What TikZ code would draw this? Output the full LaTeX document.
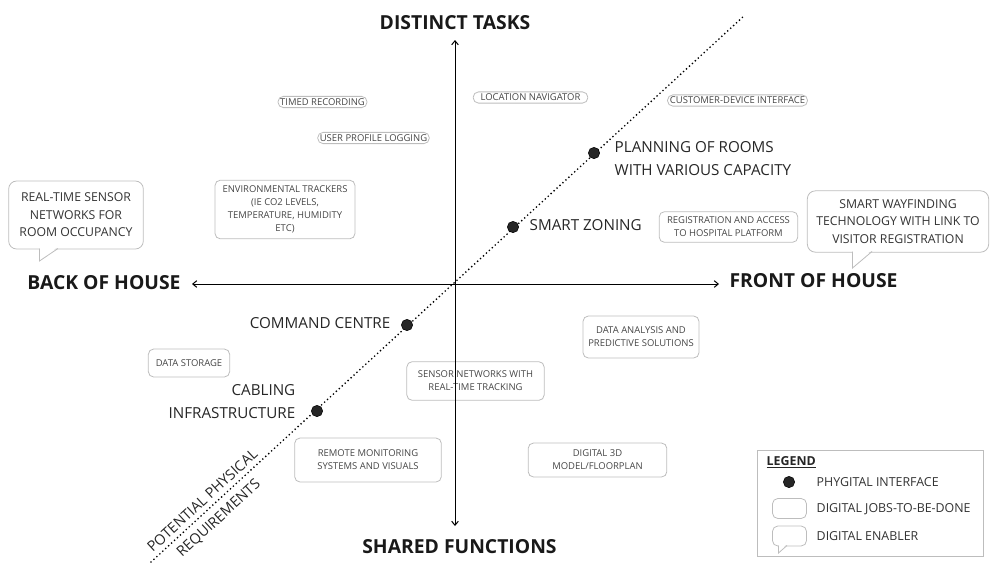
\documentclass[tikz,border=0pt]{standalone}
\usepackage{fontspec}
\setmainfont{Open Sans}
\usetikzlibrary{arrows.meta}

\definecolor{boxgray}{HTML}{BDBDBD}
\definecolor{txtgray}{HTML}{454545}

\tikzset{
  job/.style={draw=boxgray, line width=0.6pt, rounded corners=4pt,
    text=txtgray, font=\fontsize{7.1}{9.8}\selectfont, align=center, inner sep=1.6pt},
  enabler/.style={job, rounded corners=6pt, text=black!80,
    font=\fontsize{9.2}{13.2}\selectfont},
  phygital/.style={circle, fill=black!85, draw=black, inner sep=0pt, minimum size=8.5pt},
  axislabel/.style={font=\bfseries\fontsize{14.5}{17}\selectfont, text=black!90},
  biglabel/.style={font=\fontsize{11.4}{17.2}\selectfont, text=black!85},
  legendtext/.style={anchor=west, font=\fontsize{9.3}{11}\selectfont, text=black!80},
  axis/.style={line width=0.75pt, {Straight Barb[length=3pt,width=5pt]}-{Straight Barb[length=3pt,width=5pt]}}
}

\begin{document}
\begin{tikzpicture}[x=0.75pt, y=-0.75pt]
   \useasboundingbox (0,0) rectangle (1000,576);

   % digital jobs-to-be-done
   \node (timed) at (322.5,102) [job] {TIMED RECORDING};
   \node (profile) at (373.5,138) [job] {USER PROFILE LOGGING};
   \node (env) at (285,209.5) [job, minimum width=105pt, minimum height=44pt]
      {ENVIRONMENTAL TRACKERS\\(IE CO2 LEVELS,\\TEMPERATURE, HUMIDITY\\ETC)};
   \node (nav) at (530.5,97.5) [job, minimum width=86pt] {LOCATION NAVIGATOR};
   \node (custdev) at (737.5,100.5) [job, minimum width=105pt] {CUSTOMER-DEVICE INTERFACE};
   \node (regist) at (728.5,227) [job, minimum width=104pt, minimum height=23pt]
      {REGISTRATION AND ACCESS\\TO HOSPITAL PLATFORM};
   \node (storage) at (189,363) [job, minimum width=61pt, minimum height=21pt] {DATA STORAGE};
   \node (sensnet) at (475.5,381) [job, minimum width=103pt, minimum height=29pt]
      {SENSOR NETWORKS WITH\\REAL-TIME TRACKING};
   \node (analysis) at (641,337) [job, minimum width=87pt, minimum height=31.5pt]
      {DATA ANALYSIS AND\\PREDICTIVE SOLUTIONS};
   \node (remote) at (368,460) [job, minimum width=110pt, minimum height=33pt]
      {REMOTE MONITORING\\SYSTEMS AND VISUALS};
   \node (model) at (597.5,460) [job, minimum width=104pt, minimum height=25.5pt]
      {DIGITAL 3D\\MODEL/FLOORPLAN};

   % digital enablers
   \node (rtsensor) at (76,215) [enabler, minimum width=101pt, minimum height=51pt]
      {REAL-TIME SENSOR\\NETWORKS FOR\\ROOM OCCUPANCY};
   \fill [white] (39.8,247) -- (57.5,247) -- (39.8,260.5) -- cycle;
   \draw [boxgray, line width=0.6pt] (39.5,248.5) -- (39.5,261) -- (58,248.5);
   \node (wayfind) at (898,221.5) [enabler, minimum width=136pt, minimum height=46pt]
      {SMART WAYFINDING\\TECHNOLOGY WITH LINK TO\\VISITOR REGISTRATION};
   \fill [white] (852.8,250) -- (871.5,250) -- (852.8,267.5) -- cycle;
   \draw [boxgray, line width=0.6pt] (852.5,251.5) -- (852.5,268) -- (872,251.5);

   % diagonal
   \coordinate (dlow) at (151,562);
   \coordinate (dhigh) at (745,15);
   \draw [line width=1.4pt, line cap=round, dash pattern=on 0pt off 3pt] (dlow) -- (dhigh);
   \node (potential) at (211,510) [rotate=42.6, align=center,
      font=\fontsize{10.8}{17.6}\selectfont, text=black!85] {POTENTIAL PHYSICAL\\REQUIREMENTS};

   % axes
   \node (top) at (455,23) [axislabel] {DISTINCT TASKS};
   \node (bottom) at (459.5,547) [axislabel] {SHARED FUNCTIONS};
   \node (left) at (104,283) [axislabel] {BACK OF HOUSE};
   \node (right) at (813.5,281) [axislabel] {FRONT OF HOUSE};
   \coordinate (ytop) at (455,40);
   \coordinate (ybot) at (455,526);
   \coordinate (xleft) at (192,284);
   \coordinate (xright) at (719,284);
   \draw [axis] (ybot) -- (ytop);
   \draw [axis] (xleft) -- (xright);

   % phygital interfaces
   \node (planning) at (594,153) [phygital] {};
   \node (zoning) at (513,227) [phygital] {};
   \node (command) at (407,325) [phygital] {};
   \node (cabling) at (317,411) [phygital] {};
   \node at (610,159) [biglabel, anchor=west, align=left]
      {PLANNING OF ROOMS\\WITH VARIOUS CAPACITY};
   \node at (525,225) [biglabel, anchor=west] {SMART ZONING};
   \node at (395,323) [biglabel, anchor=east] {COMMAND CENTRE};
   \node at (300,401.5) [biglabel, anchor=east, align=right] {CABLING\\INFRASTRUCTURE};

   % legend
   \node (legend) at (870.5,503.5) [draw=boxgray, line width=0.6pt,
      minimum width=170pt, minimum height=80pt] {};
   \node at (762,462) [anchor=west, font=\bfseries\fontsize{9.3}{11}\selectfont,
      text=black!85] {\underline{LEGEND}};
   \node (legdot) at (789,482) [phygital] {};
   \node (legjob) at (789.5,508.5) [job, minimum width=25.5pt, minimum height=15pt] {};
   \node (legenab) at (789.5,536) [job, minimum width=25.5pt, minimum height=15pt] {};
   \fill [white] (778.8,544) -- (786.5,544) -- (778.8,552.5) -- cycle;
   \draw [boxgray, line width=0.6pt] (778.5,545.5) -- (778.5,553) -- (787,545.5);
   \node at (812,482) [legendtext] {PHYGITAL INTERFACE};
   \node at (812,509) [legendtext] {DIGITAL JOBS-TO-BE-DONE};
   \node at (812,536) [legendtext] {DIGITAL ENABLER};
\end{tikzpicture}
\end{document}
